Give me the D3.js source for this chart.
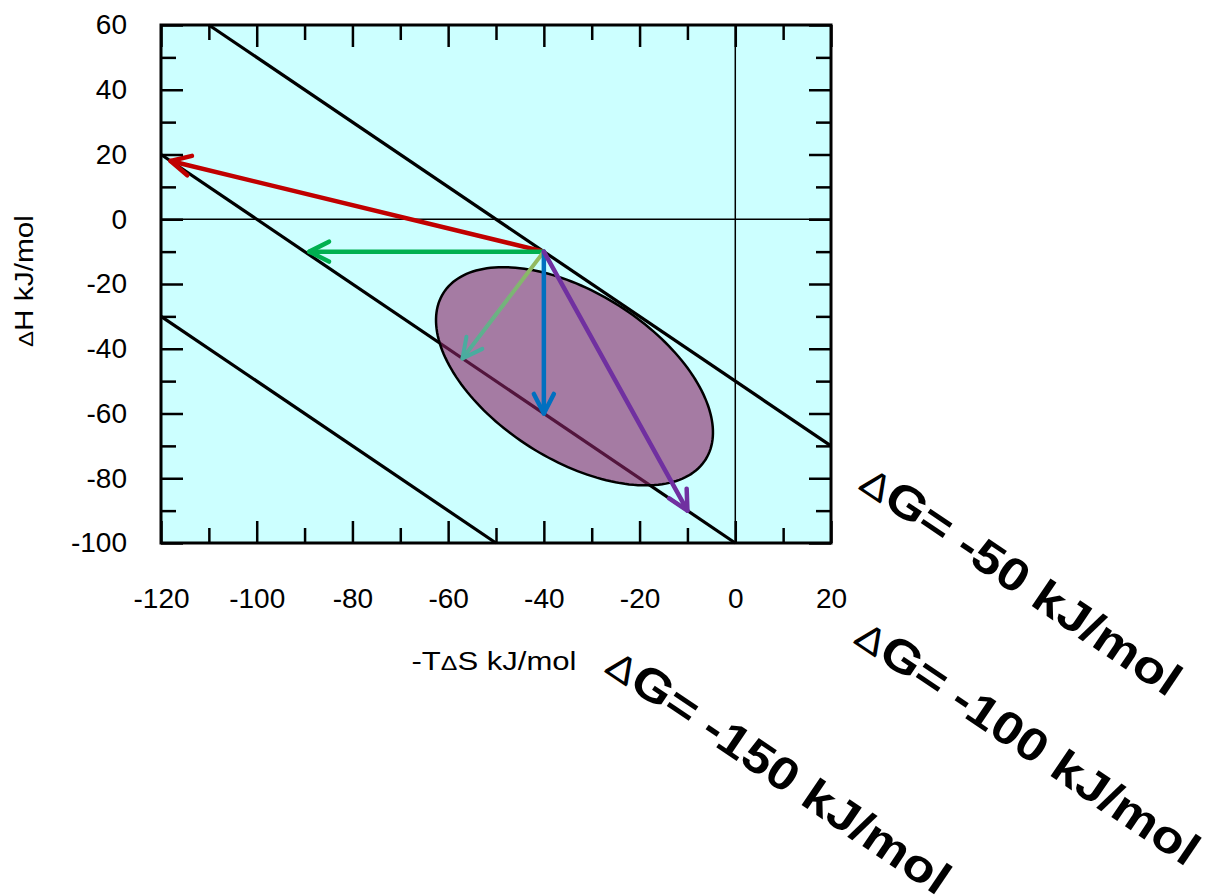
<!DOCTYPE html>
<html>
<head>
<meta charset="utf-8">
<script src="https://cdn.jsdelivr.net/npm/d3@7/dist/d3.min.js"></script>
<style>
  body { margin: 0; background: #fff; }
  svg text { font-family: "Liberation Sans", Arial, sans-serif; fill: #000; }
</style>
</head>
<body>
<svg id="chart" width="1219" height="895"></svg>
<script>
// data
const xDomain = [-120, 20];
const yDomain = [-100, 60];
const xMajor = [-120, -100, -80, -60, -40, -20, 0, 20];
const xMinor = [-110, -90, -70, -50, -30, -10, 10];
const yMajor = [60, 40, 20, 0, -20, -40, -60, -80, -100];
const yMinor = [50, 30, 10, -10, -30, -50, -70, -90];
const deltaG = [-50, -100, -150];
const gLabels = ["-50 kJ/mol", "-100 kJ/mol", "-150 kJ/mol"];
const arrowStart = [-40, -10];
const arrowEnds = [[-118, 18], [-89, -10], [-57, -43], [-40, -60], [-10, -90]];
const arrowColors = ["#c00000", "#00b050", "url(#grad)", "#0070c0", "#7030a0"];
const arrowHeadColors = ["#c00000", "#00b050", "#4aac9f", "#0070c0", "#7030a0"];
const arrowWidths = [4.5, 4.5, 4, 4.5, 4.5];
const ellipseCenter = [-33.6, -48.5];
const ellipseAxisA = [27.4, -25.7];
const ellipseAxisB = [-9.3, -21.8];

const svg = d3.select("#chart");
const m = {left: 161, right: 831, top: 25, bottom: 543};
const x = d3.scaleLinear().domain(xDomain).range([m.left, m.right]);
const y = d3.scaleLinear().domain(yDomain).range([m.bottom, m.top]);

// plot background
svg.append("rect")
    .attr("x", m.left).attr("y", m.top)
    .attr("width", m.right - m.left).attr("height", m.bottom - m.top)
    .attr("fill", "#ccffff");

// zero lines
svg.append("line")
    .attr("x1", x(xDomain[0])).attr("x2", x(xDomain[1]))
    .attr("y1", y(0)).attr("y2", y(0))
    .attr("stroke", "#000").attr("stroke-width", 1.5);
svg.append("line")
    .attr("x1", x(0)).attr("x2", x(0))
    .attr("y1", y(yDomain[0])).attr("y2", y(yDomain[1]))
    .attr("stroke", "#000").attr("stroke-width", 1.5);

// dG = dH + (-TdS) lines, clipped to the frame
svg.append("g").selectAll("line")
    .data(deltaG)
    .enter().append("line")
    .attr("x1", d => x(Math.max(xDomain[0], d - yDomain[1])))
    .attr("y1", d => y(d - Math.max(xDomain[0], d - yDomain[1])))
    .attr("x2", d => x(Math.min(xDomain[1], d - yDomain[0])))
    .attr("y2", d => y(d - Math.min(xDomain[1], d - yDomain[0])))
    .attr("stroke", "#000").attr("stroke-width", 3.2);

// ellipse (parametric in data units)
const ts = d3.range(0, 2 * Math.PI, Math.PI / 90);
const ellPts = ts.map(t => [
    ellipseCenter[0] + Math.cos(t) * ellipseAxisA[0] + Math.sin(t) * ellipseAxisB[0],
    ellipseCenter[1] + Math.cos(t) * ellipseAxisA[1] + Math.sin(t) * ellipseAxisB[1]
]);
const ellLine = d3.line().x(d => x(d[0])).y(d => y(d[1])).curve(d3.curveLinearClosed);
svg.append("path")
    .attr("d", ellLine(ellPts))
    .attr("fill", "#8b2366").attr("fill-opacity", 0.6)
    .attr("stroke", "none");
svg.append("path")
    .attr("d", ellLine(ellPts))
    .attr("fill", "none")
    .attr("stroke", "#000").attr("stroke-width", 2.5);

// gradient for the 3rd arrow
const defs = svg.append("defs");
const grad = defs.append("linearGradient")
    .attr("id", "grad")
    .attr("gradientUnits", "userSpaceOnUse")
    .attr("x1", x(arrowStart[0])).attr("y1", y(arrowStart[1]))
    .attr("x2", x(arrowEnds[2][0])).attr("y2", y(arrowEnds[2][1]));
grad.append("stop").attr("offset", "0%").attr("stop-color", "#9bbb59");
grad.append("stop").attr("offset", "100%").attr("stop-color", "#4aac9f");

// arrows
const headLen = 22, headAng = 27 * Math.PI / 180;
const arrows = svg.append("g").selectAll("g")
    .data(arrowEnds)
    .enter().append("g");
arrows.append("line")
    .attr("x1", x(arrowStart[0])).attr("y1", y(arrowStart[1]))
    .attr("x2", d => x(d[0])).attr("y2", d => y(d[1]))
    .attr("stroke", (d, i) => arrowColors[i])
    .attr("stroke-width", (d, i) => arrowWidths[i])
    .attr("stroke-linecap", "round");
arrows.append("path")
    .attr("d", d => {
        const tx = x(d[0]), ty = y(d[1]);
        const a = Math.atan2(y(arrowStart[1]) - ty, x(arrowStart[0]) - tx);
        const p1 = [tx + headLen * Math.cos(a + headAng), ty + headLen * Math.sin(a + headAng)];
        const p2 = [tx + headLen * Math.cos(a - headAng), ty + headLen * Math.sin(a - headAng)];
        return `M${p1[0]},${p1[1]}L${tx},${ty}L${p2[0]},${p2[1]}`;
    })
    .attr("fill", "none")
    .attr("stroke", (d, i) => arrowHeadColors[i])
    .attr("stroke-width", (d, i) => arrowWidths[i])
    .attr("stroke-linecap", "round")
    .attr("stroke-linejoin", "round");

// frame
svg.append("rect")
    .attr("x", m.left).attr("y", m.top)
    .attr("width", m.right - m.left).attr("height", m.bottom - m.top)
    .attr("fill", "none").attr("stroke", "#000").attr("stroke-width", 3);

// axes with inward ticks
const fmt = d => String(d);
function styleAxis(g) {
    g.select(".domain").remove();
    g.selectAll(".tick line").attr("stroke", "#000").attr("stroke-width", 2.5);
    g.selectAll("text").style("font-size", "28px").attr("font-family", "Liberation Sans, Arial, sans-serif");
}
svg.append("g").attr("transform", `translate(0,${m.bottom})`)
    .call(d3.axisBottom(x).tickValues(xMajor).tickSizeInner(-22).tickSizeOuter(0).tickPadding(45).tickFormat(fmt))
    .call(styleAxis);
svg.append("g").attr("transform", `translate(0,${m.bottom})`)
    .call(d3.axisBottom(x).tickValues(xMinor).tickSizeInner(-15).tickSizeOuter(0).tickFormat(""))
    .call(styleAxis);
svg.append("g").attr("transform", `translate(0,${m.top})`)
    .call(d3.axisTop(x).tickValues(xMajor).tickSizeInner(-22).tickSizeOuter(0).tickFormat(""))
    .call(styleAxis);
svg.append("g").attr("transform", `translate(0,${m.top})`)
    .call(d3.axisTop(x).tickValues(xMinor).tickSizeInner(-15).tickSizeOuter(0).tickFormat(""))
    .call(styleAxis);
svg.append("g").attr("transform", `translate(${m.left},0)`)
    .call(d3.axisLeft(y).tickValues(yMajor).tickSizeInner(-22).tickSizeOuter(0).tickPadding(34).tickFormat(fmt))
    .call(styleAxis);
svg.append("g").attr("transform", `translate(${m.left},0)`)
    .call(d3.axisLeft(y).tickValues(yMinor).tickSizeInner(-15).tickSizeOuter(0).tickFormat(""))
    .call(styleAxis);
svg.append("g").attr("transform", `translate(${m.right},0)`)
    .call(d3.axisRight(y).tickValues(yMajor).tickSizeInner(-22).tickSizeOuter(0).tickFormat(""))
    .call(styleAxis);
svg.append("g").attr("transform", `translate(${m.right},0)`)
    .call(d3.axisRight(y).tickValues(yMinor).tickSizeInner(-15).tickSizeOuter(0).tickFormat(""))
    .call(styleAxis);

// axis titles
const xt = svg.append("text")
    .attr("x", 494).attr("y", 670)
    .attr("text-anchor", "middle")
    .style("font-size", "25px")
    .attr("textLength", 165).attr("lengthAdjust", "spacingAndGlyphs");
xt.append("tspan").text("-T");
xt.append("tspan").style("font-size", "20px").text("\u0394");
xt.append("tspan").text("S kJ/mol");

const yt = svg.append("text")
    .attr("transform", "translate(33,281) rotate(-90)")
    .attr("text-anchor", "middle")
    .style("font-size", "25px")
    .attr("textLength", 132).attr("lengthAdjust", "spacingAndGlyphs");
yt.append("tspan").style("font-size", "20px").text("\u0394");
yt.append("tspan").text("H kJ/mol");

// rotated dG labels
const labelPos = [[857, 488, 375], [852, 642, 403], [603, 671, 403]];
const gl = svg.append("g").selectAll("text")
    .data(gLabels)
    .enter().append("text")
    .attr("transform", (d, i) => `translate(${labelPos[i][0]},${labelPos[i][1]}) rotate(34)`)
    .style("font-size", "46px").style("font-weight", "bold")
    .attr("textLength", (d, i) => labelPos[i][2]).attr("lengthAdjust", "spacingAndGlyphs");
gl.append("tspan").style("font-weight", "normal").style("font-size", "38px").text("\u0394");
gl.append("tspan").text(d => "G= " + d);
</script>
</body>
</html>
